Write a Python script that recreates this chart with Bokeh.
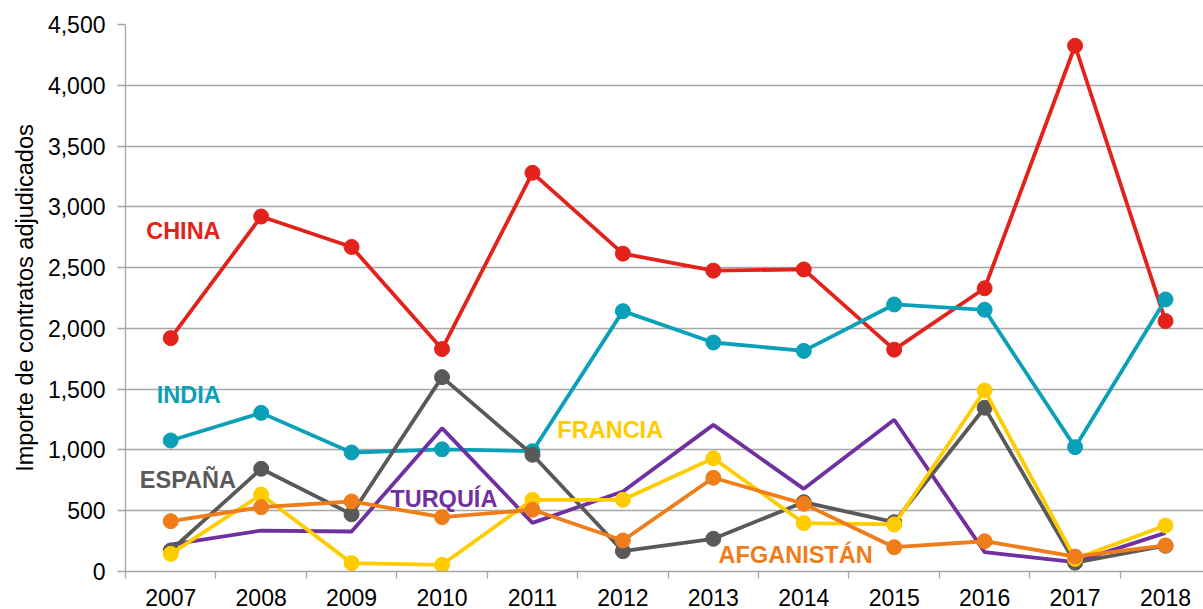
from bokeh.plotting import figure
from bokeh.models import Range1d, FixedTicker
from bokeh.core.properties import value
from bokeh.embed import file_html
from bokeh.resources import INLINE

years = ["2007", "2008", "2009", "2010", "2011", "2012", "2013", "2014", "2015", "2016", "2017", "2018"]

china = [1920, 2920, 2670, 1830, 3280, 2615, 2475, 2485, 1825, 2330, 4325, 2060]
india = [1078, 1305, 979, 1005, 990, 2142, 1884, 1815, 2197, 2153, 1023, 2238]
espana = [173, 845, 471, 1599, 960, 167, 269, 570, 406, 1347, 72, 212]
turquia = [222, 337, 329, 1179, 400, 658, 1206, 680, 1248, 159, 77, 318]
francia = [145, 633, 69, 55, 590, 590, 932, 398, 387, 1489, 104, 378]
afganistan = [414, 529, 576, 447, 508, 255, 771, 557, 200, 249, 123, 214]

y_ticks = [0, 500, 1000, 1500, 2000, 2500, 3000, 3500, 4000, 4500]

FONT = "Liberation Sans"
GRID = "#a6a6a6"

xs = list(range(len(years)))

p = figure(width=1203, height=609, output_backend="svg", toolbar_location=None,
           x_range=Range1d(-0.5, 11.42), y_range=Range1d(0, 4500),
           min_border_left=125, min_border_right=0, min_border_top=24, min_border_bottom=38)
p.outline_line_color = None
p.background_fill_color = "white"
p.xgrid.grid_line_color = None
p.ygrid.grid_line_color = GRID
p.ygrid.grid_line_width = 1.3

# axes
p.xaxis.ticker = FixedTicker(ticks=xs, minor_ticks=[x - 0.5 for x in xs] + [11.5])
p.xaxis.major_label_overrides = {i: y for i, y in enumerate(years)}
p.xaxis.major_tick_line_color = None
p.xaxis.minor_tick_line_color = GRID
p.xaxis.minor_tick_line_width = 1.3
p.xaxis.minor_tick_in = 0
p.xaxis.minor_tick_out = 7
p.xaxis.axis_line_color = GRID
p.xaxis.axis_line_width = 1.3
p.xaxis.major_label_text_font = FONT
p.xaxis.major_label_text_font_size = "23px"
p.xaxis.major_label_text_color = "#000000"
p.xaxis.major_label_standoff = 10

p.yaxis.ticker = FixedTicker(ticks=y_ticks)
p.yaxis.major_label_overrides = {t: f"{t:,}" for t in y_ticks}
p.yaxis.minor_tick_line_color = None
p.yaxis.major_tick_line_color = GRID
p.yaxis.major_tick_line_width = 1.3
p.yaxis.major_tick_in = 0
p.yaxis.major_tick_out = 8
p.yaxis.axis_line_color = GRID
p.yaxis.axis_line_width = 1.3
p.yaxis.major_label_text_font = FONT
p.yaxis.major_label_text_font_size = "23px"
p.yaxis.major_label_text_color = "#000000"
p.yaxis.major_label_standoff = 12
p.yaxis.axis_label = "Importe de contratos adjudicados"
p.yaxis.axis_label_text_font = FONT
p.yaxis.axis_label_text_font_size = "23.5px"
p.yaxis.axis_label_text_font_style = "normal"
p.yaxis.axis_label_text_color = "#000000"
p.yaxis.axis_label_standoff = 7

series = [
    ("CHINA", china, "#e3231b", True, 0.14, 2801),
    ("INDIA", india, "#0aa0b8", True, 0.2, 1450),
    ("TURQUÍA", turquia, "#7030a0", False, 3.02, 600),
    ("ESPAÑA", espana, "#595959", True, 0.19, 749),
    ("FRANCIA", francia, "#ffcc00", True, 4.86, 1164),
    ("AFGANISTÁN", afganistan, "#ee7d1a", True, 6.91, 132),
]

for name, vals, color, markers, lx, ly in series:
    p.line(xs, vals, line_color=color, line_width=3.8)
    if markers:
        p.scatter(xs, vals, size=15, fill_color=color, line_color=color)
    p.text(x=[lx], y=[ly], text=[name], text_color=color, text_font=value(FONT),
           text_font_size="23.5px", text_font_style="bold",
           text_align="center", text_baseline="middle")

open("out.html", "w").write(file_html(p, INLINE))
